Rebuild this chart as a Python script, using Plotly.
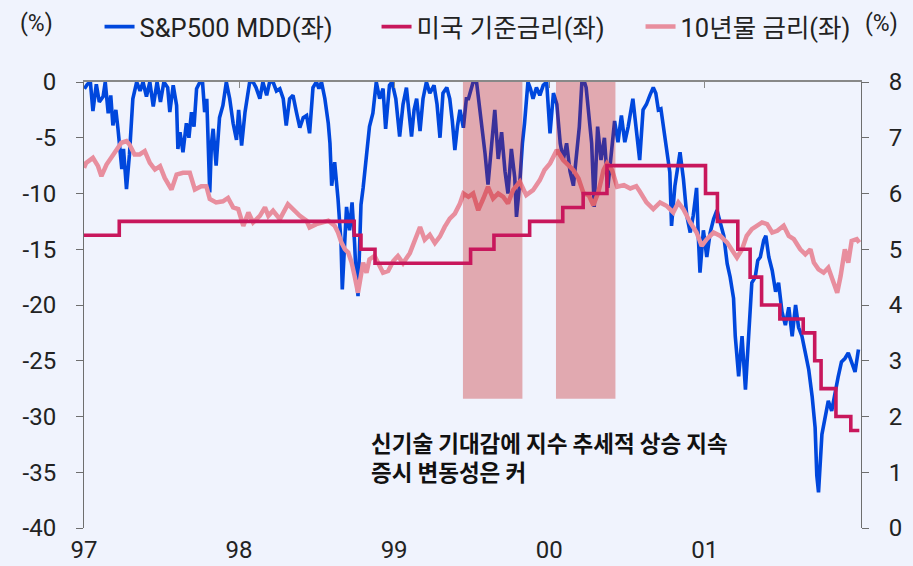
import plotly.graph_objects as go

# ---------------- data ----------------
mdd_dates = [
    "1997-01-02","1997-01-09","1997-01-16","1997-01-22","1997-01-30","1997-02-06","1997-02-15","1997-02-20",
    "1997-02-27","1997-03-05","1997-03-10","1997-03-17","1997-03-22","1997-03-31","1997-04-04","1997-04-11",
    "1997-04-18","1997-04-26","1997-05-05","1997-05-13","1997-05-20","1997-05-28","1997-06-05","1997-06-13",
    "1997-06-22","1997-06-30","1997-07-08","1997-07-17","1997-07-22","1997-07-30","1997-08-07","1997-08-10",
    "1997-08-15","1997-08-22","1997-08-30","1997-09-05","1997-09-11","1997-09-17","1997-09-23","1997-10-01",
    "1997-10-07","1997-10-12","1997-10-17","1997-10-24","1997-10-28","1997-11-01","1997-11-08","1997-11-16",
    "1997-11-24","1997-12-02","1997-12-10","1997-12-18","1997-12-26","1997-12-31","1998-01-07","1998-01-15",
    "1998-01-26","1998-02-03","1998-02-10","1998-02-19","1998-02-26","1998-03-07","1998-03-14","1998-03-22",
    "1998-03-30","1998-04-07","1998-04-15","1998-04-22","1998-04-30","1998-05-08","1998-05-16","1998-05-24",
    "1998-06-01","1998-06-09","1998-06-16","1998-06-24","1998-07-02","1998-07-08","1998-07-14","1998-07-22",
    "1998-07-30","1998-08-03","1998-08-07","1998-08-14","1998-08-22","1998-08-29","1998-09-01","1998-09-07",
    "1998-09-11","1998-09-18","1998-09-24","1998-09-30","1998-10-03","1998-10-08","1998-10-15","1998-10-20",
    "1998-10-28","1998-11-04","1998-11-12","1998-11-20","1998-11-28","1998-12-06","1998-12-12","1998-12-21",
    "1998-12-27","1999-01-05","1999-01-14","1999-01-22","1999-01-30","1999-02-05","1999-02-11","1999-02-17",
    "1999-02-23","1999-03-03","1999-03-10","1999-03-18","1999-03-26","1999-04-05","1999-04-12","1999-04-19",
    "1999-04-26","1999-05-05","1999-05-12","1999-05-18","1999-05-24","1999-05-30","1999-06-05","1999-06-13",
    "1999-06-20","1999-06-25","1999-07-06","1999-07-14","1999-07-22","1999-07-28","1999-08-03","1999-08-10",
    "1999-08-18","1999-08-26","1999-09-03","1999-09-11","1999-09-19","1999-09-26","1999-10-04","1999-10-12",
    "1999-10-16","1999-10-24","1999-10-30","1999-11-04","1999-11-12","1999-11-18","1999-11-24","1999-12-02",
    "1999-12-10","1999-12-18","1999-12-26","2000-01-03","2000-01-11","2000-01-19","2000-01-27","2000-02-03",
    "2000-02-11","2000-02-19","2000-02-27","2000-03-06","2000-03-12","2000-03-18","2000-03-24","2000-03-28",
    "2000-04-05","2000-04-10","2000-04-16","2000-04-24","2000-05-02","2000-05-10","2000-05-18","2000-05-26",
    "2000-06-03","2000-06-11","2000-06-19","2000-06-27","2000-07-05","2000-07-16","2000-07-24","2000-08-01",
    "2000-08-09","2000-08-17","2000-08-25","2000-09-02","2000-09-08","2000-09-14","2000-09-20","2000-09-26",
    "2000-10-03","2000-10-11","2000-10-15","2000-10-23","2000-11-04","2000-11-12","2000-11-20","2000-11-28",
    "2000-12-05","2000-12-13","2000-12-17","2000-12-21","2000-12-29","2001-01-06","2001-01-14","2001-01-22",
    "2001-01-30","2001-02-07","2001-02-15","2001-02-23","2001-03-02","2001-03-10","2001-03-14","2001-03-22",
    "2001-03-30","2001-04-07","2001-04-14","2001-04-22","2001-04-30","2001-05-06","2001-05-12","2001-05-20",
    "2001-05-25","2001-06-01","2001-06-09","2001-06-17","2001-06-24","2001-07-02","2001-07-10","2001-07-18",
    "2001-07-26","2001-08-03","2001-08-10","2001-08-18","2001-08-26","2001-09-03","2001-09-11","2001-09-18",
    "2001-09-22","2001-09-26","2001-10-04","2001-10-12","2001-10-19","2001-10-27","2001-11-04","2001-11-11",
    "2001-11-19","2001-11-27","2001-12-05","2001-12-13","2001-12-21","2001-12-29",
]
mdd_values = [
    -0.6, -0.2, 0.0, -2.6, -0.2, -1.8, -1.3, 0.0,
    -2.8, -1.2, -3.9, -2.5, -4.2, -7.8, -6.0, -9.6,
    -6.5, -1.5, 0.0, -0.8, 0.0, -1.3, 0.0, -2.2,
    0.0, -1.8, 0.0, -0.5, -2.7, -0.3, -2.1, -6.0,
    -4.5, -6.3, -3.7, -5.0, -2.7, -4.0, -0.6, 0.0,
    0.0, -2.7, -1.5, -9.9, -5.5, -4.2, -7.5, -3.2,
    -2.1, 0.0, -1.5, -3.7, -5.2, -2.5, -5.7, -2.7,
    0.0, 0.0, -0.5, -1.5, 0.0, -1.2, 0.0, 0.0,
    -0.8, -0.6, -1.5, -3.9, -1.5, -1.2, -2.7, -4.1,
    -3.2, -3.0, -4.6, -0.5, 0.0, -0.6, 0.0, -1.5,
    -3.7, -5.5, -9.3, -7.2, -10.5, -14.4, -18.6, -13.0,
    -11.2, -13.3, -10.8, -14.5, -17.0, -19.2, -11.0, -9.5,
    -6.9, -4.0, -2.8, 0.0, -1.5, -0.6, -4.2, -0.3,
    0.0, -1.5, -4.9, -2.0, -0.5, -2.5, -4.9, -2.5,
    -1.5, -4.4, -1.5, 0.0, -1.0, -0.3, -2.0, -5.0,
    -1.0, -0.5, -1.5, -3.5, -6.1, -4.0, -2.5, -4.1,
    -1.5, -1.5, 0.0, 0.0, -2.5, -4.0, -6.4, -9.2,
    -5.5, -2.5, -6.9, -4.5, -8.0, -10.0, -6.0, -8.6,
    -12.1, -8.9, -5.5, -3.7, 0.0, -0.6, -1.5, -0.5,
    -1.2, -0.3, 0.0, -4.6, -1.0, -2.0, -5.5, -7.0,
    -5.5, -8.0, -9.3, -6.5, -4.0, 0.0, 0.0, -0.5,
    -3.5, -5.5, -11.2, -4.0, -7.0, -5.0, -9.5, -6.5,
    -3.5, -5.4, -3.0, -5.4, -4.0, -1.5, -4.4, -7.0,
    -2.5, -2.0, -1.2, -0.5, -1.0, -2.5, -2.4, -4.1,
    -6.3, -8.1, -12.9, -9.3, -6.3, -8.7, -12.0, -13.5,
    -12.0, -9.5, -13.8, -17.1, -13.3, -15.7, -13.5, -12.3,
    -11.5, -12.6, -13.8, -16.3, -17.5, -19.4, -22.8, -26.4,
    -22.8, -27.6, -23.4, -18.0, -17.5, -16.0, -15.7, -14.2,
    -13.8, -15.7, -16.9, -18.8, -18.0, -20.6, -21.8, -20.2,
    -22.8, -20.0, -22.0, -22.8, -24.3, -25.8, -28.2, -31.0,
    -35.3, -36.8, -31.6, -29.8, -28.6, -29.5, -27.7, -26.5,
    -25.1, -24.8, -24.3, -25.2, -26.0, -24.0,
]

fed_dates = [
    "1997-01-01","1997-03-25","1998-09-29","1998-10-15","1998-11-17","1999-06-30","1999-08-24",
    "1999-11-16","2000-02-02","2000-03-21","2000-05-16","2001-01-03","2001-01-31","2001-03-20",
    "2001-04-18","2001-05-15","2001-06-27","2001-08-21","2001-09-17","2001-10-02","2001-11-06",
    "2001-12-11","2001-12-31",
]
fed_values = [
    5.25, 5.50, 5.25, 5.00, 4.75, 5.00, 5.25,
    5.50, 5.75, 6.00, 6.50, 6.00, 5.50, 5.00,
    4.50, 4.00, 3.75, 3.50, 3.00, 2.50, 2.00,
    1.75, 1.75,
]

t10_dates = [
    "1997-01-01","1997-01-06","1997-01-22","1997-02-03","1997-02-11","1997-02-23","1997-03-06","1997-03-18",
    "1997-03-30","1997-04-11","1997-04-18","1997-04-30","1997-05-12","1997-05-24","1997-06-05","1997-06-17",
    "1997-06-29","1997-07-10","1997-07-26","1997-08-07","1997-08-22","1997-09-07","1997-09-19","1997-10-04",
    "1997-10-16","1997-10-24","1997-11-08","1997-11-24","1997-12-06","1997-12-18","1997-12-30","1998-01-11",
    "1998-01-23","1998-02-03","1998-02-19","1998-03-03","1998-03-11","1998-03-22","1998-04-07","1998-04-26",
    "1998-05-08","1998-05-24","1998-06-09","1998-06-16","1998-07-02","1998-07-18","1998-07-30","1998-08-14",
    "1998-08-22","1998-08-30","1998-09-07","1998-09-15","1998-09-23","1998-09-30","1998-10-08","1998-10-12",
    "1998-10-20","1998-10-28","1998-11-04","1998-11-16","1998-11-28","1998-12-06","1998-12-18","1998-12-30",
    "1999-01-10","1999-01-22","1999-02-07","1999-02-19","1999-03-03","1999-03-14","1999-03-26","1999-04-07",
    "1999-04-19","1999-04-30","1999-05-12","1999-05-24","1999-06-05","1999-06-13","1999-06-25","1999-07-06",
    "1999-07-18","1999-07-30","1999-08-10","1999-08-22","1999-09-03","1999-09-15","1999-09-26","1999-10-08",
    "1999-10-24","1999-11-08","1999-11-24","1999-12-10","1999-12-21","2000-01-03","2000-01-19","2000-02-03",
    "2000-02-15","2000-02-27","2000-03-10","2000-03-22","2000-04-03","2000-04-14","2000-04-26","2000-05-08",
    "2000-05-16","2000-05-28","2000-06-09","2000-06-25","2000-07-10","2000-07-24","2000-08-01","2000-08-17",
    "2000-09-02","2000-09-18","2000-10-03","2000-10-19","2000-10-31","2000-11-12","2000-11-28","2000-12-13",
    "2000-12-25","2001-01-06","2001-01-22","2001-02-07","2001-02-23","2001-03-06","2001-03-18","2001-03-30",
    "2001-04-10","2001-04-22","2001-05-04","2001-05-16","2001-05-28","2001-06-09","2001-06-21","2001-07-06",
    "2001-07-18","2001-07-30","2001-08-14","2001-08-26","2001-09-07","2001-09-15","2001-09-26","2001-10-08",
    "2001-10-19","2001-10-31","2001-11-09","2001-11-17","2001-11-27","2001-12-05","2001-12-13","2001-12-25",
    "2001-12-31",
]
t10_values = [
    6.46, 6.55, 6.64, 6.49, 6.31, 6.52, 6.64, 6.79,
    6.91, 6.94, 6.88, 6.70, 6.70, 6.76, 6.55, 6.43,
    6.49, 6.28, 6.07, 6.34, 6.37, 6.37, 6.07, 6.13,
    6.13, 5.90, 5.84, 5.86, 5.92, 5.75, 5.72, 5.42,
    5.66, 5.48, 5.60, 5.75, 5.60, 5.69, 5.54, 5.81,
    5.72, 5.60, 5.51, 5.39, 5.45, 5.48, 5.51, 5.42,
    5.30, 5.12, 5.00, 4.94, 4.76, 4.52, 4.22, 4.40,
    4.76, 4.58, 4.82, 4.88, 4.70, 4.58, 4.61, 4.79,
    4.88, 4.75, 4.93, 5.17, 5.40, 5.17, 5.26, 5.11,
    5.23, 5.40, 5.55, 5.64, 5.82, 6.00, 5.94, 6.00,
    5.70, 5.91, 6.12, 5.91, 6.00, 5.94, 5.82, 6.06,
    6.21, 5.97, 6.06, 6.24, 6.42, 6.54, 6.78, 6.60,
    6.51, 6.42, 6.27, 6.00, 5.97, 5.79, 6.03, 6.42,
    6.54, 6.42, 6.12, 6.15, 6.09, 6.13, 6.04, 5.84,
    5.72, 5.84, 5.78, 5.66, 5.84, 5.72, 5.48, 5.30,
    5.06, 5.18, 5.30, 5.24, 5.12, 5.00, 4.85, 5.00,
    5.24, 5.36, 5.42, 5.48, 5.45, 5.30, 5.33, 5.42,
    5.24, 5.18, 5.00, 4.91, 5.00, 4.76, 4.64, 4.58,
    4.67, 4.40, 4.22, 4.52, 5.00, 4.76, 5.15, 5.18,
    5.12,
]

# highlighted periods (left-axis units for the vertical extent)
band_starts = ["1999-06-12", "2000-01-17"]
band_ends = ["1999-10-30", "2000-06-05"]
band_top = 0.0
band_bottom = -28.4

year_ticks = ["1997-01-01", "1998-01-01", "1999-01-01", "2000-01-01", "2001-01-01"]
year_labels = ["97", "98", "99", "00", "01"]
left_ticks = [-40, -35, -30, -25, -20, -15, -10, -5, 0]
left_labels = ["-40", "-35", "-30", "-25", "-20", "-15", "-10", "-5", "0"]
right_ticks = [0, 1, 2, 3, 4, 5, 6, 7, 8]
right_labels = ["0", "1", "2", "3", "4", "5", "6", "7", "8"]

note_lines = ["신기술 기대감에 지수 추세적 상승 지속", "증시 변동성은 커"]

Y1_RANGE = [-40, 0]
Y2_RANGE = [0, 8]
X_RANGE = ["1997-01-01", "2002-01-04"]

BLUE = "#0047DD"
CRIMSON = "#C8175C"
PINK = "#E88E9E"
BG = "#F0F3FD"
AXIS = "#6E6E6E"
TXT = "#222222"
FONT = "Roboto, Noto Sans CJK KR, sans-serif"


def to_y2(v):
    return (v - Y1_RANGE[0]) / (Y1_RANGE[1] - Y1_RANGE[0]) * (Y2_RANGE[1] - Y2_RANGE[0]) + Y2_RANGE[0]


fig = go.Figure()

fig.add_trace(go.Scatter(
    x=mdd_dates, y=mdd_values, mode="lines", name="S&P500 MDD(좌)",
    line=dict(color=BLUE, width=3.6), legendrank=1, legendwidth=232,
    xaxis="x", yaxis="y",
))

fig.add_trace(go.Scatter(
    x=t10_dates, y=t10_values, mode="lines", name="10년물 금리(좌)",
    line=dict(color=PINK, width=4.5), legendrank=3, legendwidth=186,
    xaxis="x2", yaxis="y2",
))

for s, e in zip(band_starts, band_ends):
    yb, yt = to_y2(band_bottom), to_y2(band_top)
    fig.add_trace(go.Scatter(
        x=[s, s, e, e, s], y=[yb, yt, yt, yb, yb], mode="lines",
        fill="toself", fillcolor="rgba(192,0,0,0.3)", line=dict(width=0),
        showlegend=False, hoverinfo="skip", xaxis="x2", yaxis="y2",
    ))

fig.add_trace(go.Scatter(
    x=fed_dates, y=fed_values, mode="lines", name="미국 기준금리(좌)",
    line=dict(color=CRIMSON, width=3.6, shape="hv"), legendrank=2, legendwidth=219,
    xaxis="x2", yaxis="y2",
))

tickfont = dict(family=FONT, size=24, color=TXT)

annotations = [
    dict(text="(%)", xref="paper", yref="paper", x=-0.0605, y=1.132,
         xanchor="center", yanchor="middle",
         showarrow=False, font=dict(family=FONT, size=23, color=TXT)),
    dict(text="(%)", xref="paper", yref="paper", x=1.027, y=1.132,
         xanchor="center", yanchor="middle",
         showarrow=False, font=dict(family=FONT, size=23, color=TXT)),
]
note_y = [-32.25, -34.85]
for line_text, ny in zip(note_lines, note_y):
    annotations.append(dict(
        text="<b>" + line_text + "</b>", xref="paper", yref="y", x=0.368, y=ny,
        xanchor="left", yanchor="middle", align="left", showarrow=False, borderpad=0,
        font=dict(family="Noto Sans CJK KR, sans-serif", size=22.5, color="#111111"),
    ))

fig.update_layout(
    width=913, height=566,
    margin=dict(l=84, r=52, t=82, b=38, autoexpand=False),
    paper_bgcolor=BG, plot_bgcolor=BG,
    font=dict(family=FONT, color=TXT),
    showlegend=True,
    legend=dict(
        orientation="h", x=0.02, xanchor="left", y=1.1233, yanchor="middle",
        font=dict(family=FONT, size=25.5, color=TXT), bgcolor="rgba(0,0,0,0)",
        entrywidthmode="pixels", traceorder="normal",
    ),
    xaxis=dict(
        type="date", range=X_RANGE, tickvals=year_ticks, ticktext=year_labels,
        showline=False, ticks="", showgrid=False, zeroline=False,
        tickfont=tickfont, automargin=False, ticklabelstandoff=5,
    ),
    xaxis2=dict(
        type="date", range=X_RANGE, overlaying="x", side="top", anchor="y2",
        tickvals=year_ticks, showticklabels=False, showline=True, linecolor="#888888",
        linewidth=1.5, ticks="inside", ticklen=6, tickcolor="#888888", showgrid=False,
        zeroline=False, matches="x", automargin=False,
    ),
    yaxis=dict(
        range=Y1_RANGE, tickvals=left_ticks, ticktext=left_labels, showline=True,
        linecolor=AXIS, linewidth=1, ticks="outside", ticklen=7, tickcolor=AXIS,
        showgrid=False, zeroline=False, tickfont=tickfont, ticklabelstandoff=15,
        automargin=False,
    ),
    yaxis2=dict(
        range=Y2_RANGE, tickvals=right_ticks, ticktext=right_labels, overlaying="y",
        side="right", anchor="x2", showline=True, linecolor=AXIS, linewidth=1,
        ticks="outside", ticklen=7, tickcolor=AXIS, showgrid=False, zeroline=False,
        tickfont=tickfont, ticklabelstandoff=15, automargin=False,
    ),
    annotations=annotations,
)

fig.write_html(
    "out.html",
    config={"displayModeBar": False},
    post_script="document.body.style.margin='0px';",
)
